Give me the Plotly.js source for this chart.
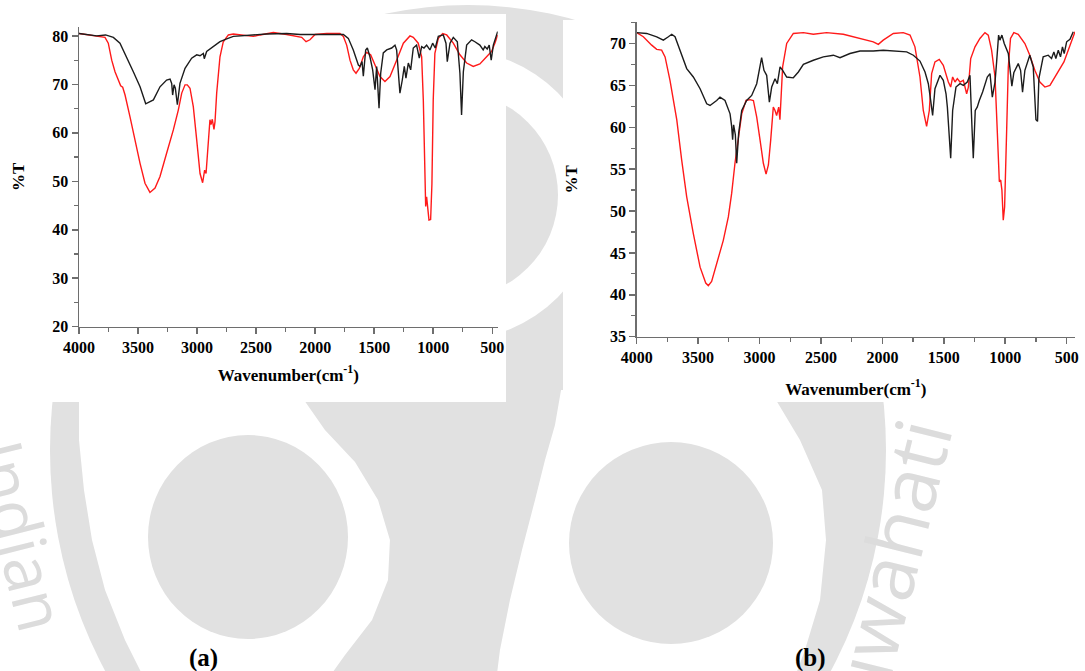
<!DOCTYPE html>
<html>
<head>
<meta charset="utf-8">
<script src="https://cdn.plot.ly/plotly-3.0.1.min.js"></script>
<style>
  html, body { margin: 0; padding: 0; background: #ffffff; }
  #chart { width: 1085px; height: 671px; }
</style>
</head>
<body>
<div id="chart"></div>
<script>
// FTIR spectra: transmittance (%T) versus wavenumber (cm-1)
// Panel (a)
const aBlackWn = [4000,3850,3775,3709,3653,3596,3540,3483,3435,3370,3314,3258,3229,3215,3207,3195,3184,3167,3145,3102,3046,3003,2975,2947,2939,2919,2862,2806,2749,2693,2411,2241,2128,1846,1761,1719,1677,1634,1620,1603,1592,1572,1558,1536,1513,1493,1479,1459,1445,1423,1394,1352,1324,1310,1282,1262,1245,1231,1211,1191,1169,1141,1118,1098,1078,1056,1028,1005,983,957,915,892,881,858,830,796,774,760,745,717,675,647,605,577,563,543,526,509,491,454];
const aBlackT  = [80.5,80.0,80.2,79.7,78.5,75.7,72.6,69.5,66.0,66.8,69.5,70.9,71.1,70.2,67.8,69.9,69.2,65.8,70.2,73.3,75.4,76.1,75.9,76.4,75.3,76.8,77.8,78.8,79.4,79.9,80.4,80.5,80.3,80.3,80.3,79.5,77.1,74.0,73.7,74.7,71.7,77.1,77.5,75.7,73.0,68.9,73.7,65.1,72.3,76.5,77.1,77.5,78.1,77.1,68.2,70.9,73.7,71.3,74.4,73.0,77.5,78.1,75.4,77.8,77.5,78.1,77.1,78.5,77.5,79.9,80.2,78.5,74.7,78.5,79.7,78.8,72.3,63.7,72.6,78.1,79.2,78.8,78.1,77.1,77.8,77.3,78.1,75.0,78.1,80.9];
const aRedWn   = [4000,3879,3822,3780,3752,3723,3695,3667,3647,3630,3610,3568,3526,3483,3441,3399,3356,3314,3258,3201,3159,3130,3102,3083,3060,3032,3003,2975,2953,2936,2924,2905,2891,2882,2871,2857,2848,2834,2806,2778,2735,2693,2608,2524,2467,2354,2241,2185,2114,2077,2044,2001,1902,1790,1761,1733,1705,1677,1654,1626,1592,1564,1530,1493,1451,1409,1366,1310,1253,1197,1169,1127,1098,1084,1073,1064,1056,1047,1036,1022,1011,1000,986,957,920,886,830,774,717,661,605,548,506,478,454];
const aRedT    = [80.5,80.0,79.9,79.7,78.5,75.0,72.6,70.9,69.7,69.4,67.8,63.3,58.5,53.7,49.6,47.7,48.6,51.0,55.8,60.6,64.7,68.2,69.9,69.9,69.2,65.4,58.5,51.6,49.7,52.3,51.6,57.8,62.7,61.7,62.8,60.7,62.3,68.2,75.7,78.8,80.2,80.4,80.2,79.9,80.2,80.7,80.3,80.0,79.7,78.8,79.2,80.3,80.5,80.5,79.9,78.1,75.0,73.0,72.3,73.3,75.7,76.6,76.1,74.0,71.6,70.6,71.6,75.0,78.5,80.0,79.7,78.5,75.7,66.8,53.0,44.8,46.8,44.1,42.0,42.1,49.5,66.8,76.4,79.5,80.5,80.2,78.5,76.1,74.4,73.7,74.2,75.7,76.8,78.5,80.2];

// Panel (b)
const bBlackWn = [4000,3919,3837,3783,3742,3715,3688,3647,3593,3539,3484,3430,3403,3349,3322,3281,3240,3227,3219,3211,3197,3186,3170,3145,3105,3064,3023,2983,2964,2942,2920,2901,2874,2855,2833,2812,2779,2725,2684,2643,2562,2481,2399,2345,2264,2182,2074,1993,1911,1802,1748,1694,1653,1626,1607,1591,1572,1531,1504,1482,1471,1460,1444,1428,1401,1368,1341,1309,1287,1271,1260,1244,1228,1211,1184,1146,1124,1105,1083,1070,1054,1043,1027,1008,975,957,946,930,894,875,859,840,800,772,750,737,726,691,650,623,604,588,568,550,534,520,500,473,446];
const bBlackT  = [71.3,71.2,70.8,70.4,70.8,71.1,70.8,69.2,67.0,66.0,64.6,62.8,62.6,63.2,63.6,63.2,61.6,60.1,58.5,60.3,59.1,55.7,59.3,62.0,63.2,63.8,65.2,68.3,66.8,66.2,63.0,64.8,65.8,65.2,67.2,66.8,66.0,65.9,66.6,67.5,68.0,68.4,68.6,68.3,68.8,69.1,69.1,69.2,69.1,69.0,68.6,67.9,66.6,65.2,63.2,61.4,64.6,66.2,65.6,64.0,62.4,59.5,56.3,62.0,64.8,65.2,65.0,65.4,66.2,60.1,56.3,62.0,62.4,63.2,64.2,66.0,66.4,63.6,65.4,67.8,71.0,70.4,71.0,70.0,68.8,66.4,64.9,66.5,67.6,66.8,64.2,66.8,68.6,67.2,60.9,60.7,65.8,68.4,68.6,68.2,69.0,68.2,69.2,68.4,69.6,68.8,70.2,70.5,71.4];
const bRedWn   = [4000,3946,3878,3837,3797,3769,3729,3674,3634,3593,3539,3484,3438,3417,3390,3349,3295,3254,3227,3200,3173,3145,3110,3078,3050,3023,2996,2969,2947,2928,2909,2888,2874,2861,2844,2834,2812,2779,2725,2643,2562,2454,2318,2182,2074,2033,1993,1911,1830,1775,1735,1694,1667,1640,1618,1599,1572,1537,1504,1463,1444,1428,1409,1390,1368,1341,1314,1300,1281,1246,1206,1165,1138,1111,1083,1064,1048,1037,1027,1016,1005,989,975,957,930,894,840,800,759,718,677,636,596,555,522,487,460,432];
const bRedT    = [71.3,70.8,69.8,69.3,69.2,68.4,65.6,60.9,56.1,51.7,47.3,43.3,41.4,41.1,41.6,43.7,46.5,49.3,52.1,55.7,58.9,61.6,63.2,63.3,63.2,61.2,58.5,55.7,54.4,55.5,58.5,62.4,62.0,61.4,62.4,60.9,67.2,70.0,71.2,71.3,71.1,71.3,71.1,70.6,70.2,69.9,70.4,71.2,71.3,71.0,69.6,66.0,62.0,60.1,62.0,66.4,67.8,68.1,67.4,65.4,64.8,66.0,65.4,65.8,65.4,65.6,64.0,64.8,68.2,69.6,70.6,71.3,71.0,69.2,66.0,59.3,53.5,53.7,52.5,48.9,50.5,59.3,67.2,70.6,71.3,71.1,70.0,68.6,66.8,65.4,64.8,65.0,66.0,67.0,67.8,69.2,70.4,71.4];

// Axis ticks and labels
const xTicks  = [4000, 3500, 3000, 2500, 2000, 1500, 1000, 500];
const aYTicks = [20, 30, 40, 50, 60, 70, 80];
const bYTicks = [35, 40, 45, 50, 55, 60, 65, 70];
const panelLabels = ['(a)', '(b)'];
const xTitle = 'Wavenumber(cm<sup>-1</sup>)';
const yTitle = '%T';
const watermarkWords = ['Indian', 'Guwahati'];

// Page geometry helpers (figure is 1085 x 671 with zero margins)
const W = 1085, H = 671;
const fx = px => px / W;
const fy = py => 1 - py / H;

const RED = '#ff1a1a';
const BLACK = '#1c1c1c';
const SERIF = '"Liberation Serif", "Times New Roman", serif';
const GREY = '#e1e1e1';

function line(x, y, color, xa, ya) {
  return { x: x, y: y, xaxis: xa, yaxis: ya, type: 'scatter', mode: 'lines',
           line: { color: color, width: 1.4 }, hoverinfo: 'skip', showlegend: false };
}

const traces = [
  line(aRedWn, aRedT, RED, 'x', 'y'),
  line(aBlackWn, aBlackT, BLACK, 'x', 'y'),
  line(bRedWn, bRedT, RED, 'x2', 'y2'),
  line(bBlackWn, bBlackT, BLACK, 'x2', 'y2')
];

const axisCommon = {
  showgrid: false, zeroline: false, showline: true,
  linecolor: '#6e6e6e', linewidth: 1.5,
  ticks: 'outside', ticklen: 6, tickwidth: 1.5, tickcolor: '#6e6e6e',
  tickfont: { family: SERIF, size: 16, color: '#000', weight: 'bold' },
  fixedrange: true
};

function xAxis(domain, range, anchor, standoff) {
  return Object.assign({}, axisCommon, {
    domain: domain, range: range, anchor: anchor,
    tickmode: 'array', tickvals: xTicks, ticktext: xTicks.map(String),
    minor: { ticks: 'outside', ticklen: 4, tickwidth: 1.2, tickcolor: '#6e6e6e', dtick: 250, tick0: 0 },
    title: { text: xTitle, standoff: standoff, font: { family: SERIF, size: 17, color: '#000', weight: 'bold' } }
  });
}
function yAxis(domain, range, ticks, minorStep, anchor, standoff) {
  return Object.assign({}, axisCommon, {
    domain: domain, range: range, anchor: anchor,
    tickmode: 'array', tickvals: ticks, ticktext: ticks.map(String),
    minor: { ticks: 'outside', ticklen: 4, tickwidth: 1.2, tickcolor: '#6e6e6e', dtick: minorStep, tick0: 0 },
    title: { text: yTitle, standoff: standoff, font: { family: SERIF, size: 17, color: '#000', weight: 'bold' } }
  });
}

// Background watermark shapes and the two white chart panels
function ellipse(cx, cy, rx, ry, color) {
  return { type: 'circle', xref: 'paper', yref: 'paper', layer: 'below',
           x0: fx(cx - rx), x1: fx(cx + rx), y0: fy(cy + ry), y1: fy(cy - ry),
           fillcolor: color, line: { width: 0 } };
}
function poly(points, color) {
  const d = points.map((p, i) => (i ? 'L' : 'M') + fx(p[0]).toFixed(4) + ',' + fy(p[1]).toFixed(4)).join(' ') + ' Z';
  return { type: 'path', xref: 'paper', yref: 'paper', layer: 'below', path: d,
           fillcolor: color, line: { width: 0 } };
}
function rect(x0, y0, x1, y1, color) {
  return { type: 'rect', xref: 'paper', yref: 'paper', layer: 'below',
           x0: fx(x0), x1: fx(x1), y0: fy(y1), y1: fy(y0), fillcolor: color, line: { width: 0 } };
}

const shapes = [
  ellipse(468, 450, 418, 445, GREY),
  poly([[79,380],[290,380],[325,430],[355,462],[378,500],[390,540],[388,580],[372,620],[345,655],[320,690],
        [150,690],[125,640],[105,590],[92,540],[84,490],[79,440]], '#ffffff'),
  ellipse(248, 537, 100, 102, GREY),
  poly([[561,390],[770,390],[800,440],[822,490],[826,540],[820,600],[805,650],[790,690],
        [495,690],[500,650],[510,600],[522,550],[535,500],[545,460],[555,425]], '#ffffff'),
  ellipse(671, 543, 102, 101, GREY),
  ellipse(455, 195, 145, 145, '#ffffff'),
  ellipse(455, 195, 103, 103, GREY),
  rect(0, 14, 506, 402, '#ffffff'),
  rect(563, 20, 1085, 402, '#ffffff')
];

const annotations = [
  { text: watermarkWords[0], xref: 'paper', yref: 'paper', x: fx(22), y: fy(535), xanchor: 'center', yanchor: 'middle',
    showarrow: false, textangle: 76, font: { family: '"Open Sans", sans-serif', size: 66, color: '#dcdcdc' } },
  { text: watermarkWords[1], xref: 'paper', yref: 'paper', x: fx(882), y: fy(590), xanchor: 'center', yanchor: 'middle',
    showarrow: false, textangle: -76, font: { family: '"Open Sans", sans-serif', size: 78, color: '#dcdcdc' } },
  { text: panelLabels[0], xref: 'paper', yref: 'paper', x: fx(203), y: fy(658), xanchor: 'center', yanchor: 'middle',
    showarrow: false, font: { family: SERIF, size: 25, color: '#000', weight: 'bold' } },
  { text: panelLabels[1], xref: 'paper', yref: 'paper', x: fx(810), y: fy(658), xanchor: 'center', yanchor: 'middle',
    showarrow: false, font: { family: SERIF, size: 25, color: '#000', weight: 'bold' } }
];

const layout = {
  width: W, height: H,
  margin: { l: 0, r: 0, t: 0, b: 0 },
  paper_bgcolor: '#ffffff',
  plot_bgcolor: 'rgba(0,0,0,0)',
  showlegend: false,
  xaxis:  xAxis([fx(79), fx(497.7)], [4000, 454], 'y', 13),
  yaxis:  yAxis([fy(326.7), fy(26.7)], [20, 81.9], aYTicks, 5, 'x', 23),
  xaxis2: xAxis([fx(636.7), fx(1075)], [4000, 432], 'y2', 17),
  yaxis2: yAxis([fy(336.7), fy(21.7)], [35, 72.6], bYTicks, 2.5, 'x2', 28),
  shapes: shapes,
  annotations: annotations
};

Plotly.newPlot('chart', traces, layout, { staticPlot: true, displayModeBar: false });
</script>
</body>
</html>
